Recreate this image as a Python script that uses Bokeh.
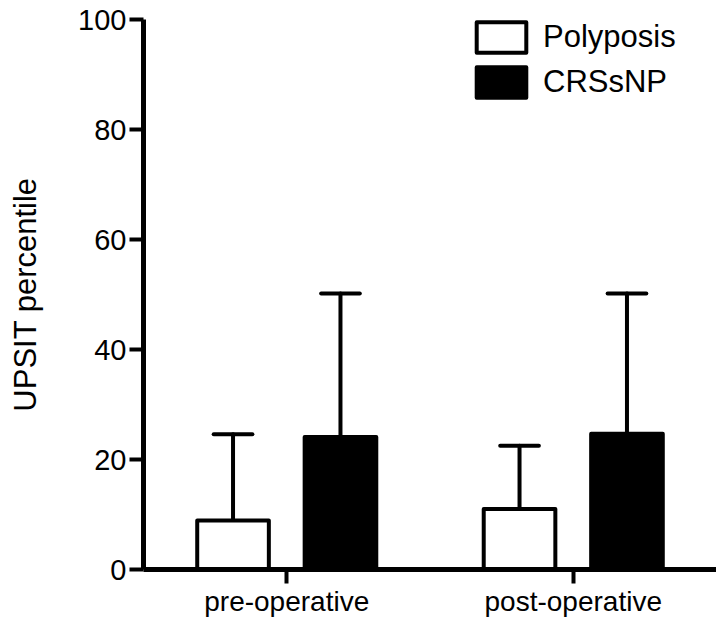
import numpy as np
from bokeh.plotting import figure
from bokeh.models import (ColumnDataSource, FixedTicker, Range1d, Legend, LegendItem)
from bokeh.embed import file_html
from bokeh.resources import INLINE

# ---- data ----
categories = ["pre-operative", "post-operative"]
series_names = ["Polyposis", "CRSsNP"]
polyposis_mean = [8.9, 11.0]
polyposis_upper = [24.6, 22.5]
crssnp_mean = [24.1, 24.7]
crssnp_upper = [50.2, 50.2]
y_ticks = [0, 20, 40, 60, 80, 100]

FONT = "Liberation Sans"
offset = 0.1875
bar_w = 0.25
cap_w = 0.135

pos = np.arange(len(categories)) + 1.0

p = figure(width=716, height=623, output_backend="svg", toolbar_location=None,
           x_range=Range1d(0.5, 2.5), y_range=Range1d(0, 100),
           min_border_left=143, min_border_right=0, min_border_top=19,
           min_border_bottom=54)
p.outline_line_color = None
p.grid.visible = False
p.background_fill_color = "white"

renderers = []
for means, uppers, fill, sign in [(polyposis_mean, polyposis_upper, "white", -1),
                                  (crssnp_mean, crssnp_upper, "black", 1)]:
    xs = pos + sign * offset
    src = ColumnDataSource(dict(x=xs, top=means, upper=uppers,
                                x0=xs - cap_w / 2, x1=xs + cap_w / 2))
    p.segment(x0="x", y0="top", x1="x", y1="upper", source=src,
              line_color="black", line_width=4, line_cap="round")
    p.segment(x0="x0", y0="upper", x1="x1", y1="upper", source=src,
              line_color="black", line_width=4, line_cap="round")
    r = p.vbar(x="x", top="top", bottom=0, width=bar_w, source=src,
               fill_color=fill, line_color="black", line_width=4,
               line_join="round")
    renderers.append(r)

legend = Legend(items=[LegendItem(label=series_names[0], renderers=[renderers[0]]),
                       LegendItem(label=series_names[1], renderers=[renderers[1]])],
                location=(327, 468), padding=0, margin=0, spacing=7,
                glyph_width=62, glyph_height=38, label_standoff=11,
                label_text_font=FONT, label_text_font_size="31px",
                label_text_color="black",
                border_line_color=None, background_fill_alpha=0)
p.add_layout(legend)

# axes
p.xaxis.ticker = FixedTicker(ticks=list(pos))
p.xaxis.major_label_overrides = {float(v): c for v, c in zip(pos, categories)}
p.xaxis.major_label_overrides.update({int(v): c for v, c in zip(pos, categories)})
p.yaxis.ticker = FixedTicker(ticks=y_ticks)
p.yaxis.axis_label = "UPSIT percentile"

for ax in (p.xaxis, p.yaxis):
    ax.axis_line_width = 5
    ax.axis_line_color = "black"
    ax.major_tick_line_width = 4
    ax.major_tick_line_color = "black"
    ax.major_tick_out = 14
    ax.major_tick_in = 0
    ax.minor_tick_line_color = None
    ax.major_label_text_font = FONT
    ax.major_label_text_color = "black"
    ax.axis_label_text_font = FONT
    ax.axis_label_text_font_style = "normal"
    ax.axis_label_text_color = "black"

p.yaxis.major_label_text_font_size = "29px"
p.yaxis.major_label_standoff = 3
p.yaxis.axis_label_text_font_size = "31px"
p.yaxis.axis_label_standoff = 32
p.xaxis.major_label_text_font_size = "28px"
p.xaxis.major_label_standoff = 2

open("out.html", "w").write(file_html(p, INLINE))
